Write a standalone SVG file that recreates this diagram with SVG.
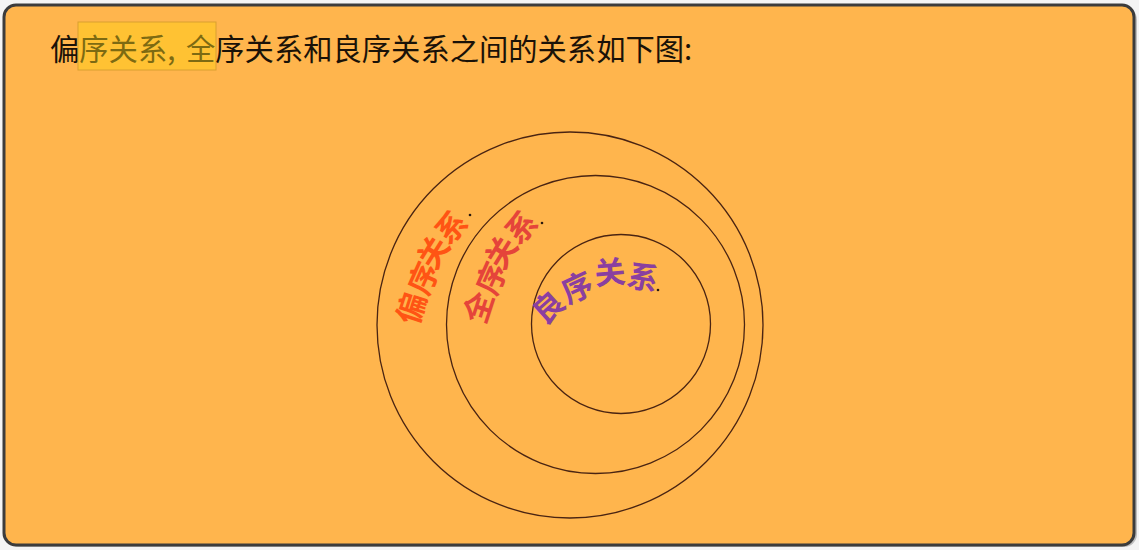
<svg xmlns="http://www.w3.org/2000/svg" width="1139" height="550" viewBox="0 0 1139 550">
  <style>
    .title { font-family: "Noto Sans CJK SC", "Noto Sans", sans-serif; font-size: 29.3px; fill: #1a1208; }
    .lbl { font-family: "Noto Sans CJK SC", "Noto Sans", sans-serif; font-size: 31px; font-weight: bold; }
    .ring { fill: none; stroke: #4a2412; stroke-width: 1.3; }
    .dot { fill: #2a1a10; }
  </style>
  <rect x="0" y="0" width="1139" height="550" fill="#f4f4f4"/>
  <rect x="6" y="7" width="1131" height="540" rx="13" fill="#8a8a8a" opacity="0.5"/>
  <rect x="4" y="5" width="1130" height="540" rx="12" fill="#ffb54d" stroke="#3c3c3c" stroke-width="3"/>
  <g id="title">
    <rect x="78" y="22" width="138" height="48" fill="#ffc233" stroke="#d9a030" stroke-width="1"/>
    <text class="title" x="50" y="60">偏<tspan fill="#7d6a12">序关系, <tspan x="186">全</tspan></tspan>序关系和良序关系之间的关系如下图:</text>
  </g>
  <g id="connectors"/>
  <g id="partial-order">
    <circle class="ring" cx="570" cy="325" r="193"/>
    <text class="lbl" fill="#ff5414" x="417.4 427.5 434.8 448.4" y="326.4 297.0 271.4 246.3" rotate="-72 -66 -58 -45">偏序关系</text>
    <circle class="dot" cx="470" cy="215" r="1.3"/>
  </g>
  <g id="total-order">
    <circle class="ring" cx="595.5" cy="324.5" r="149"/>
    <text class="lbl" fill="#e5443a" x="484.4 495.5 502.8 518.4" y="325.4 297.0 271.4 246.3" rotate="-72 -66 -58 -45">全序关系</text>
    <circle class="dot" cx="542" cy="223" r="1.3"/>
  </g>
  <g id="well-order">
    <circle class="ring" cx="621" cy="324" r="89.5"/>
    <text class="lbl" fill="#8a3fa0" x="544.4 567.9 595.6 625.4" y="326.1 304.2 285.1 285.3" rotate="-42 -25 -5 12">良序关系</text>
    <circle class="dot" cx="658" cy="290" r="1.3"/>
  </g>
</svg>
